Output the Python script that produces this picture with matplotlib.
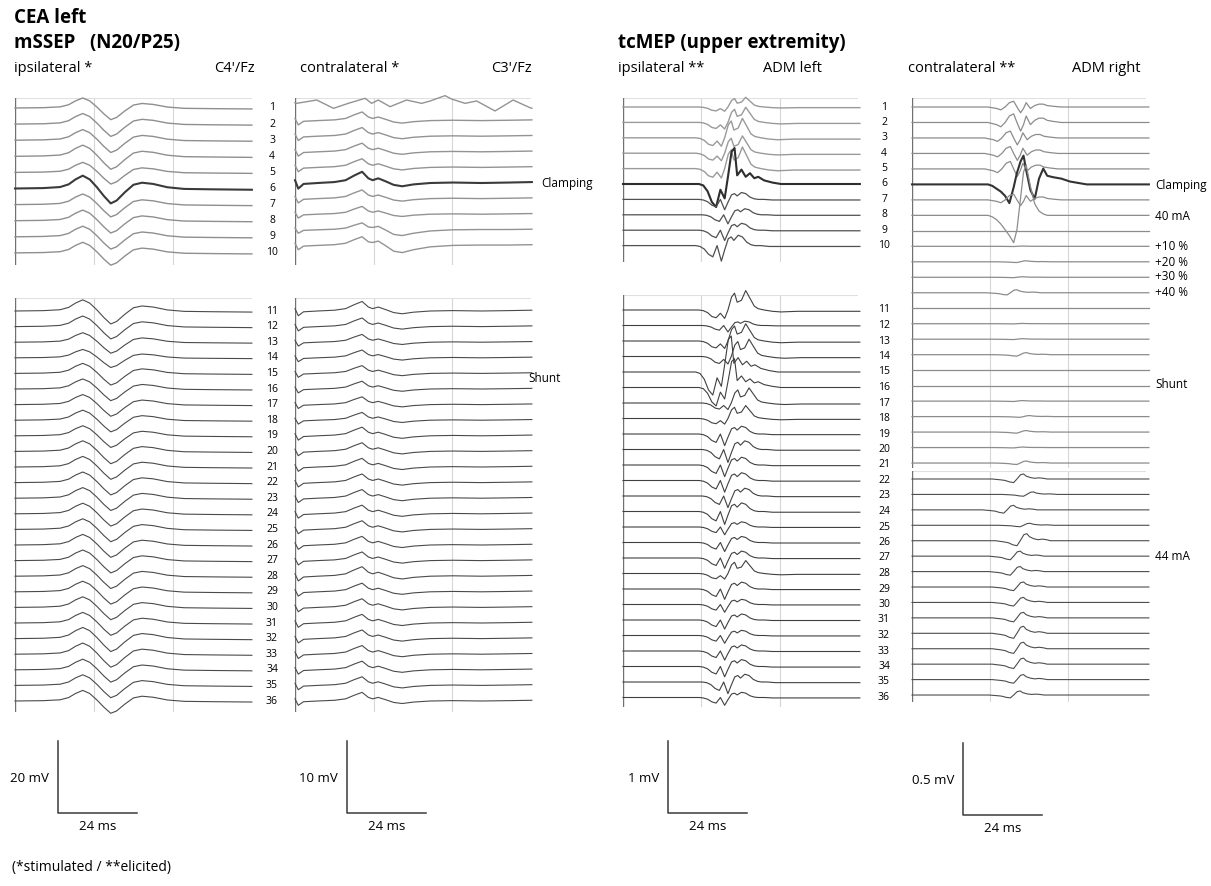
import numpy as np
import matplotlib.pyplot as plt

plt.rcParams['font.family'] = ['Open Sans', 'DejaVu Sans']

W, H = 1211, 886
PX_MS = 3.29   # px per ms of the recordings (24 ms per grid division)

# ---------------- data ----------------
# mSSEP ipsilateral, C4'/Fz (mV)
ssep_ipsi_t = [0, 8.6, 13.7, 16.3, 18.4, 20.6, 22.7, 24.9, 27, 29.1, 30.9, 33.4, 36, 38.6, 42, 46.3, 51.4, 60, 72]
ssep_ipsi_v = [0, 0.1, 0.35, 1.0, 2.2, 3.1, 2.2, 0.3, -1.8, -3.6, -2.9, -0.9, 0.9, 1.4, 1.1, 0.3, -0.1, -0.2, -0.3]
ipsi_top_gain = [0.9, 0.95, 0.95, 1.0, 0.9, 1.15, 0.95, 0.95, 0.95, 0.95]
ipsi_bot_gain = [1.0, 0.95, 0.85, 0.75, 0.9, 0.9, 0.9, 0.9, 0.9, 0.95, 0.95, 0.95, 0.95,
                 0.95, 0.95, 0.95, 0.95, 0.95, 0.95, 0.95, 0.95, 1.0, 1.0, 0.95, 0.95, 0.95]

# mSSEP contralateral, C3'/Fz (mV)
ssep_contra_t = [0, 1.0, 2.6, 6.9, 12, 15.4, 18, 20.4, 22.3, 23.6, 25.3, 27.4, 30, 32.6, 36, 41.1, 48, 56.6, 65.1, 72]
ssep_contra_a = [0.3, -0.6, -0.1, 0.0, 0.1, 0.3, 0.8, 1.2, 0.5, 0.3, 0.5, 0.2, -0.2, -0.35, -0.15, 0.0, 0.05, 0.0, 0.05, 0.1]
ssep_contra_b = [0.3, -0.6, -0.1, 0.0, 0.1, 0.3, 0.8, 1.2, 0.5, 0.4, 0.6, 0.0, -0.8, -1.0, -0.6, -0.2, 0.0, 0.05, 0.05, 0.1]
contra_first_t = [0, 0.5, 6.6, 11.7, 16.2, 21.3, 23.3, 25.3, 28.9, 33.9, 38.5, 41.1, 45.6, 47.6, 51.7, 55.2, 60.8, 66.3, 71.4, 72]
contra_first_v = [0.3, 0.23, 0.69, -0.46, 0.23, 0.93, 0.23, 0.69, -0.23, 0.69, 0.23, 0.56, 1.3, 0.83, 0.23, 0.56, -0.83, 0.69, -0.37, -0.45]
contra_top_kind = ['n', 'a', 'a', 'a', 'a', 'a', 'a', 'a', 'b', 'b']
contra_top_gain = [1.0, 1.0, 1.0, 1.0, 1.0, 1.3, 1.0, 0.9, 0.8, 1.0]
contra_bot_gain = [1.1, 1.0, 0.9, 0.9, 0.9, 0.9, 0.9, 0.9, 1.0, 1.0, 1.0, 1.0, 1.0,
                   1.0, 1.0, 1.0, 1.0, 1.1, 1.0, 1.0, 1.0, 1.0, 1.0, 1.0, 1.0, 1.0]

# tcMEP time base (ms)
mep_t = [0, 23.1, 24.4, 25.7, 27, 28.3, 29.6, 30.9, 31.9, 33, 33.9, 34.7, 36, 37.3, 38.6, 39.9, 41.1, 42.9, 45.4, 48, 53.1, 72]
# ADM left (mV)
mep_poly = [0, 0, -0.01, -0.04, -0.1, -0.12, -0.05, -0.13, 0.0, 0.2, 0.26, 0.12, 0.15, 0.3, 0.18, 0.06, 0.02, 0.0, -0.02, -0.03, -0.02, -0.02]
mep_clamp = [0, 0, -0.02, -0.1, -0.25, -0.32, -0.08, -0.2, 0.1, 0.45, 0.5, 0.12, 0.2, 0.1, 0.15, 0.08, 0.1, 0.05, 0.02, 0.0, 0.0, 0.0]
mep_small = [0, 0, -0.01, -0.04, -0.1, -0.13, 0.0, -0.18, -0.05, 0.08, 0.1, 0.06, 0.12, 0.1, 0.04, 0.01, 0.0, 0.0, -0.01, -0.01, -0.01, -0.01]
left_top_kind = ['poly'] * 5 + ['clamp'] + ['small'] * 4
left_top_gain = [0.45, 0.7, 0.9, 0.8, 1.0, 1.0, 0.8, 0.7, 0.8, 1.2]
left_top_shift = [0, 0, -1, -1, -1, 0, 0, 1, 0, -1]
left_bot_kind = ['poly', 'small', 'poly', 'poly', 'clamp', 'clamp', 'poly', 'poly', 'small',
                 'small', 'small', 'small', 'small', 'small', 'small', 'small', 'small', 'poly',
                 'small', 'small', 'small', 'small', 'small', 'small', 'small', 'small']
left_bot_gain = [0.9, 0.5, 0.8, 0.8, 1.0, 0.8, 0.7, 0.6, 0.9, 1.0, 0.9, 0.9, 0.9,
                 1.0, 0.6, 0.7, 0.8, 0.6, 0.8, 0.6, 0.7, 0.6, 0.7, 0.8, 0.9, 0.6]
left_bot_shift = [0, 1, 0, 1, -1, 0, 1, 0, 0, 1, 0, 0, 1, 0, 0, 0, 0, 0, 0, 0, 0, 0, 0, 0, 1, 0]

# ADM right (mV)
adm_clamp = [0, 0, -0.01, -0.03, -0.05, -0.08, -0.13, -0.02, 0.08, 0.16, 0.2, 0.1, -0.04, -0.1, 0.04, 0.11, 0.06, 0.05, 0.04, 0.02, 0.0, 0.0]
adm_poly = [0, 0, -0.005, -0.01, -0.02, 0.0, 0.03, 0.04, 0.0, -0.04, -0.01, 0.03, -0.01, 0.01, 0.02, 0.02, 0.01, 0.005, 0.0, 0.0, 0.0, 0.0]
adm_neg = [0, 0, -0.01, -0.03, -0.06, -0.1, -0.14, -0.19, -0.1, 0.12, 0.3, 0.35, 0.2, 0.08, 0.03, 0.01, 0.0, 0.0, 0.0, 0.0, 0.0, 0.0]
adm_small = [0, 0, 0, -0.003, -0.006, -0.01, -0.02, -0.025, 0.0, 0.03, 0.035, 0.02, 0.01, 0.005, 0.008, 0.005, 0.0, 0.0, 0.0, 0.0, 0.0, 0.0]
right_a_kind = ['poly'] * 5 + ['clamp', 'poly', 'neg'] + ['small'] * 16
right_a_gain = [1.0, 1.5, 1.2, 1.2, 1.3, 1.0, 1.0, 1.0, 0.0, 0.05, 0.2, 0.1, 0.6, 0.0,
                0.05, 0.1, 0.4, 0.0, 0.0, 0.1, 0.2, 0.3, 0.1, 0.4]
right_a_shift = [0, 0, -1, -1, -1, 0, 0, 0, 0, 0, 1, 0, -2, 0, 0, 0, 1, 0, 0, 0, 2, 1, 0, 1]
right_b_gain = [1.0, 0.5, 0.9, 0.4, 1.4, 1.0, 1.0, 1.0, 1.0, 1.1, 1.4, 1.3, 1.2, 1.0, 0.8]
right_b_shift = [0, 3, -3, 2, 1, -1, -1, 0, 0, 0, 0, 0, 0, 0, -1]

templates = {
    'ipsi': (ssep_ipsi_t, ssep_ipsi_v),
    'a': (ssep_contra_t, ssep_contra_a),
    'b': (ssep_contra_t, ssep_contra_b),
    'n': (contra_first_t, contra_first_v),
    'poly': (mep_t, mep_poly),
    'clamp': (mep_t, mep_clamp),
    'small': (mep_t, mep_small),
    'rpoly': (mep_t, adm_poly),
    'rclamp': (mep_t, adm_clamp),
    'rneg': (mep_t, adm_neg),
    'rsmall': (mep_t, adm_small),
}

fig = plt.figure(figsize=(W / 100, H / 100), dpi=100)


def box(x, top, bottom, y0, px_mv, w=237):
    ax = fig.add_axes([x / W, 1 - bottom / H, w / W, (bottom - top) / H])
    xmax = w / PX_MS
    ax.set_xlim(0, xmax)
    ax.set_ylim(-(bottom - y0) / px_mv, (y0 - top) / px_mv)
    ax.axis('off')
    ymin, ymax = ax.get_ylim()
    for g in (xmax / 3, 2 * xmax / 3):
        ax.plot([g, g], [ymin, ymax], color='#d6d6d6', lw=0.8)
    ax.plot([0, xmax], [ymax, ymax], color='#e0e0e0', lw=0.8)
    ax.plot([0, 0], [ymin, ymax], color='#707070', lw=1.0)
    return ax


def trace(ax, kind, row, step, gain=1.0, shift=0.0, color='#505050', lw=0.8):
    t, v = templates[kind]
    t = np.array(t, float)
    inner = (t > 0) & (t < 72)
    t[inner] += shift
    ax.plot(t, np.array(v) * gain - row * step, color=color, lw=lw, clip_on=False)


# ---- mSSEP ipsilateral ----
ax = box(15, 98, 265, 108, 3.6)
for i, g in enumerate(ipsi_top_gain):
    dark = i == 5
    trace(ax, 'ipsi', i, 16.1 / 3.6, g, color='#3a3a3a' if dark else '#8f8f8f', lw=1.5 if dark else 1.0)
ax = box(15, 298, 712, 311, 3.6)
for i, g in enumerate(ipsi_bot_gain):
    trace(ax, 'ipsi', i, 15.6 / 3.6, g, color='#4a4a4a', lw=0.8)

# ---- mSSEP contralateral ----
ax = box(295, 98, 265, 105, 7.2, w=236)
for i, (k, g) in enumerate(zip(contra_top_kind, contra_top_gain)):
    dark = i == 5
    trace(ax, k, i, 15.6 / 7.2, g, color='#3a3a3a' if dark else '#939393', lw=1.5 if dark else 1.0)
ax = box(295, 298, 712, 311, 7.2, w=236)
for i, g in enumerate(contra_bot_gain):
    trace(ax, 'a', i, 15.6 / 7.2, g, color='#4a4a4a', lw=0.8)

# ---- tcMEP ADM left ----
ax = box(623, 98, 262, 107, 72, w=235)
for i, (k, g, s) in enumerate(zip(left_top_kind, left_top_gain, left_top_shift)):
    if i == 5:
        c, lw = '#2e2e2e', 1.5
    elif i < 5:
        c, lw = '#9a9a9a', 1.0
    else:
        c, lw = '#505050', 0.9
    trace(ax, k, i, 15.4 / 72, g, s, color=c, lw=lw)
ax = box(623, 295, 707, 310, 72, w=235)
for i, (k, g, s) in enumerate(zip(left_bot_kind, left_bot_gain, left_bot_shift)):
    trace(ax, k, i, 15.5 / 72, g, s, color='#404040', lw=0.8)

# ---- tcMEP ADM right ----
ax = box(912, 98, 468, 107, 144, w=234)
for i, (k, g, s) in enumerate(zip(right_a_kind, right_a_gain, right_a_shift)):
    dark = i == 5
    trace(ax, 'r' + k, i, 15.48 / 144, g, s, color='#333333' if dark else '#8c8c8c', lw=1.5 if dark else 0.9)
ax = box(912, 471, 702, 479, 144, w=234)
for i, (g, s) in enumerate(zip(right_b_gain, right_b_shift)):
    trace(ax, 'rsmall', i, 15.43 / 144, g, s, color='#4d4d4d', lw=0.8)

# ---- row numbers ----
for i in range(10):
    fig.text(272 / W, 1 - (108 + 16.1 * i) / H, str(i + 1), ha='center', va='center', fontsize=7.5)
    fig.text(884 / W, 1 - (107 + 15.4 * i) / H, str(i + 1), ha='center', va='center', fontsize=7.5)
for i in range(26):
    fig.text(272 / W, 1 - (311 + 15.6 * i) / H, str(i + 11), ha='center', va='center', fontsize=7.5)
    fig.text(884 / W, 1 - (310 + 15.5 * i) / H, str(i + 11), ha='center', va='center', fontsize=7.5)

# ---- side labels ----
side = [(541, 183, 'Clamping'), (528, 379, 'Shunt'),
        (1155, 186, 'Clamping'), (1155, 216, '40 mA'), (1155, 247, '+10 %'),
        (1155, 262, '+20 %'), (1155, 277, '+30 %'), (1155, 292, '+40 %'),
        (1155, 385, 'Shunt'), (1155, 556, '44 mA')]
for x, y, s in side:
    fig.text(x / W, 1 - y / H, s, ha='left', va='center', fontsize=8.5)

# ---- headings ----
fig.text(14 / W, 1 - 18 / H, 'CEA left', fontsize=13.5, fontweight='bold', va='center')
fig.text(14 / W, 1 - 43 / H, 'mSSEP   (N20/P25)', fontsize=13.5, fontweight='bold', va='center')
fig.text(618 / W, 1 - 43 / H, 'tcMEP (upper extremity)', fontsize=13.5, fontweight='bold', va='center')
subs = [(14, 'left', 'ipsilateral *'), (255, 'right', "C4'/Fz"),
        (300, 'left', 'contralateral *'), (532, 'right', "C3'/Fz"),
        (618, 'left', 'ipsilateral **'), (822, 'right', 'ADM left'),
        (908, 'left', 'contralateral **'), (1141, 'right', 'ADM right')]
for x, ha, s in subs:
    fig.text(x / W, 1 - 68 / H, s, ha=ha, va='center', fontsize=10.5)


# ---- scale bars ----
def scalebar(x, y, mv, px_mv, label):
    h = mv * px_mv
    sb = fig.add_axes([x / W, 1 - y / H, 24 * PX_MS / W, h / H])
    sb.set_xlim(0, 24)
    sb.set_ylim(0, mv)
    sb.plot([0, 0, 24], [mv, 0, 0], color='#3a3a3a', lw=1.1, clip_on=False)
    sb.axis('off')
    fig.text((x - 9) / W, 1 - (y - h / 2 + 1) / H, label, ha='right', va='center', fontsize=9.5)
    fig.text((x + 12 * PX_MS) / W, 1 - (y + 13) / H, '24 ms', ha='center', va='center', fontsize=9.5)


scalebar(58, 813, 20, 3.6, '20 mV')
scalebar(347, 813, 10, 7.2, '10 mV')
scalebar(668, 813, 1, 72, '1 mV')
scalebar(963, 815, 0.5, 144, '0.5 mV')

fig.text(12 / W, 1 - 867 / H, '(*stimulated / **elicited)', fontsize=10, va='center')

fig.savefig('out.png', dpi=100)
